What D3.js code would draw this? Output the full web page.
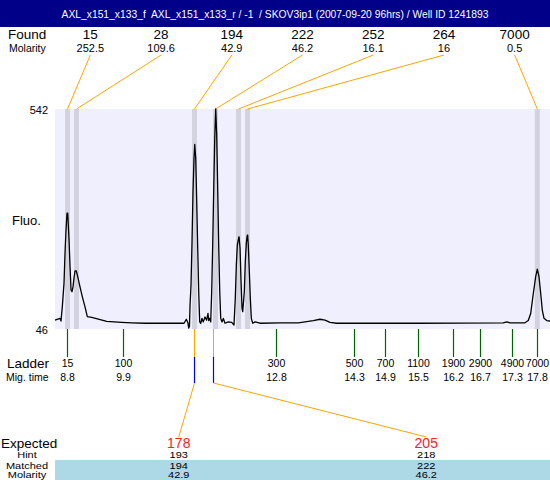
<!DOCTYPE html>
<html><head><meta charset="utf-8">
<script src="https://cdn.jsdelivr.net/npm/d3@7"></script>
<style>
html,body{margin:0;padding:0;background:#fff;}
svg{display:block;font-family:"Liberation Sans",Arial,sans-serif;}
</style></head>
<body>
<svg id="chart" width="550" height="480"></svg>
<script>
const titleText = "AXL_x151_x133_f  AXL_x151_x133_r / -1  / SKOV3ip1 (2007-09-20 96hrs) / Well ID 1241893";
const foundSizes = [15, 28, 194, 222, 252, 264, 7000];
const foundMolarity = ["252.5", "109.6", "42.9", "46.2", "16.1", "16", "0.5"];
const foundTimes = [8.804, 8.976, 11.237, 11.639, 12.080, 12.252, 17.804];
const ladderSizes = [15, 100, 300, 500, 700, 1100, 1900, 2900, 4900, 7000];
const ladderTimes = [8.80, 9.87, 12.79, 14.30, 14.89, 15.51, 16.19, 16.71, 17.31, 17.80];
const expectedSizes = [178, 205];
const hintSizes = [193, 218];
const hintTimes = [11.22, 11.60];
const matchedSizes = [194, 222];
const matchedMolarity = ["42.9", "46.2"];
const yTicks = [46, 542];
const timeDomain = [8.564, 18.047];
const traceTimes = [8.564,8.660,8.679,8.704,8.737,8.756,8.775,8.794,8.808,8.833,8.852,8.871,8.890,8.909,8.928,8.948,8.972,8.999,9.043,9.087,9.139,9.183,9.267,9.394,9.555,9.842,10.034,10.289,10.576,10.959,11.036,11.080,11.110,11.126,11.140,11.151,11.170,11.189,11.208,11.227,11.241,11.260,11.279,11.298,11.317,11.336,11.356,11.380,11.405,11.438,11.470,11.495,11.510,11.530,11.547,11.566,11.585,11.605,11.624,11.643,11.662,11.681,11.700,11.720,11.739,11.764,11.789,11.821,11.884,11.949,11.993,12.018,12.038,12.057,12.084,12.090,12.109,12.128,12.147,12.160,12.191,12.210,12.229,12.245,12.255,12.267,12.287,12.306,12.325,12.352,12.396,12.492,12.875,13.225,13.513,13.641,13.737,13.833,13.961,15.500,17.152,17.218,17.281,17.568,17.631,17.677,17.727,17.773,17.804,17.836,17.869,17.900,17.932,17.984,18.047];
const traceFluo = [66,70,64,96,150,218,269,307,307,247,187,134,130,141,161,177,177,164,141,119,96,74,72,68,63,61,60,59,59,59,59,68,60,48,52,100,145,243,356,431,462,431,333,228,130,62,59,70,62,73,66,81,65,70,62,130,235,363,476,542,483,363,235,130,70,62,70,59,62,61,55,115,190,235,252,254,228,153,93,85,130,198,239,256,258,235,175,115,70,59,62,59,60,60,65,68,66,61,59,59,60,62,60,60,65,81,126,164,181,164,126,88,70,65,64];

const W = 550, H = 480;
const plot = {left: 55, right: 550, top: 109, bottom: 329};
const svg = d3.select("#chart");

const x = d3.scaleLinear().domain(timeDomain).range([plot.left, plot.right]);
const y = d3.scaleLinear().domain([yTicks[0], yTicks[1]]).range([plot.bottom, plot.top]);

// title bar
svg.append("rect").attr("x",0).attr("y",0).attr("width",W).attr("height",27).attr("fill","#000088");
svg.append("text").attr("x",W/2).attr("y",14).attr("text-anchor","middle").attr("dominant-baseline","central")
  .attr("fill","#fff").attr("font-size",10.3).style("white-space","pre").text(titleText);

// plot background
svg.append("rect").attr("x",plot.left).attr("y",plot.top).attr("width",plot.right-plot.left).attr("height",plot.bottom-plot.top).attr("fill","#efeffd");

// found bands
const bandW = 5;
svg.selectAll("rect.band").data(foundTimes).join("rect").attr("class","band")
  .attr("x",d=>x(d)-bandW/2).attr("y",plot.top).attr("width",bandW).attr("height",plot.bottom-plot.top).attr("fill","#d3d3df");

// left labels
const lab = (t, xx, yy, fs, anchor) => svg.append("text").attr("x",xx).attr("y",yy).attr("font-size",fs)
  .attr("text-anchor",anchor||"start").attr("dominant-baseline","central").attr("fill","#000").text(t);
// vertically squeezed small text (as in the reference's bottom rows)
const sq = (t, xx, yy, fs) => svg.append("text")
  .attr("transform",`translate(${xx},${yy}) scale(1,0.78)`)
  .attr("font-size",fs).attr("text-anchor","middle").attr("dominant-baseline","central").attr("fill","#000").text(t);

lab("Found", 8, 34, 13.5);
lab("Molarity", 9, 47.5, 10.5);
lab("Fluo.", 12, 220, 13);
lab("Ladder", 7, 363, 13.5);
lab("Mig. time", 6, 377, 10.5);

// y tick labels
svg.selectAll("text.ytick").data(yTicks).join("text").attr("class","ytick")
  .attr("x",48).attr("y",d=>y(d)+1).attr("text-anchor","end").attr("dominant-baseline","central")
  .attr("font-size",11).text(d=>d);

// found columns
const nF = foundSizes.length;
const colX = i => plot.left + (i+0.5)*(plot.right-plot.left)/nF;
foundSizes.forEach((s,i)=>{
  lab(String(s), colX(i), 34, 13.5, "middle");
  lab(foundMolarity[i], colX(i), 48, 11, "middle");
  svg.append("line").attr("x1",colX(i)).attr("y1",55).attr("x2",x(foundTimes[i])).attr("y2",plot.top)
    .attr("stroke","#ffa500").attr("stroke-width",1);
});

// trace
const trace = traceTimes.map((t,i)=>[t, traceFluo[i]]);
svg.append("path").datum(trace)
  .attr("d", d3.line().x(d=>x(d[0])).y(d=>y(d[1])))
  .attr("fill","none").attr("stroke","#000").attr("stroke-width",1.3).attr("stroke-linejoin","round");

// ladder ticks & labels
ladderTimes.forEach((t,i)=>{
  const xx = Math.round(x(t))+0.5;
  svg.append("line").attr("x1",xx).attr("x2",xx).attr("y1",plot.bottom).attr("y2",357)
    .attr("stroke","#006400").attr("stroke-width",1.2);
  lab(String(ladderSizes[i]), xx, 363, 10.5, "middle");
  lab(t.toFixed(1), xx, 377, 10.5, "middle");
});

// expected section
const nE = expectedSizes.length;
const eX = i => plot.left + (i+0.5)*(plot.right-plot.left)/nE;
svg.append("rect").attr("x",plot.left).attr("y",460).attr("width",plot.right-plot.left).attr("height",20).attr("fill","#add8e6");
lab("Expected", 1, 443, 13.5);
sq("Hint", 27, 455, 11);
sq("Matched", 27, 465.5, 11);
sq("Molarity", 27, 475, 11);
hintTimes.forEach((t,i)=>{
  const xx = Math.round(x(t))+0.5;
  svg.append("line").attr("x1",xx).attr("x2",xx).attr("y1",plot.bottom).attr("y2",357).attr("stroke","#ffa500").attr("stroke-width",1);
  svg.append("line").attr("x1",xx).attr("x2",xx).attr("y1",357).attr("y2",383).attr("stroke","#0000ff").attr("stroke-width",1.2);
  svg.append("line").attr("x1",xx).attr("x2",eX(i)).attr("y1",383).attr("y2",437).attr("stroke","#ffa500").attr("stroke-width",1);
  svg.append("text").attr("x",eX(i)).attr("y",443).attr("text-anchor","middle").attr("dominant-baseline","central")
    .attr("font-size",14).attr("fill","#ff2020").text(expectedSizes[i]);
  sq(String(hintSizes[i]), eX(i), 455, 11);
  sq(String(matchedSizes[i]), eX(i), 465.5, 11);
  sq(matchedMolarity[i], eX(i), 475, 11);
});
</script>
</body></html>
